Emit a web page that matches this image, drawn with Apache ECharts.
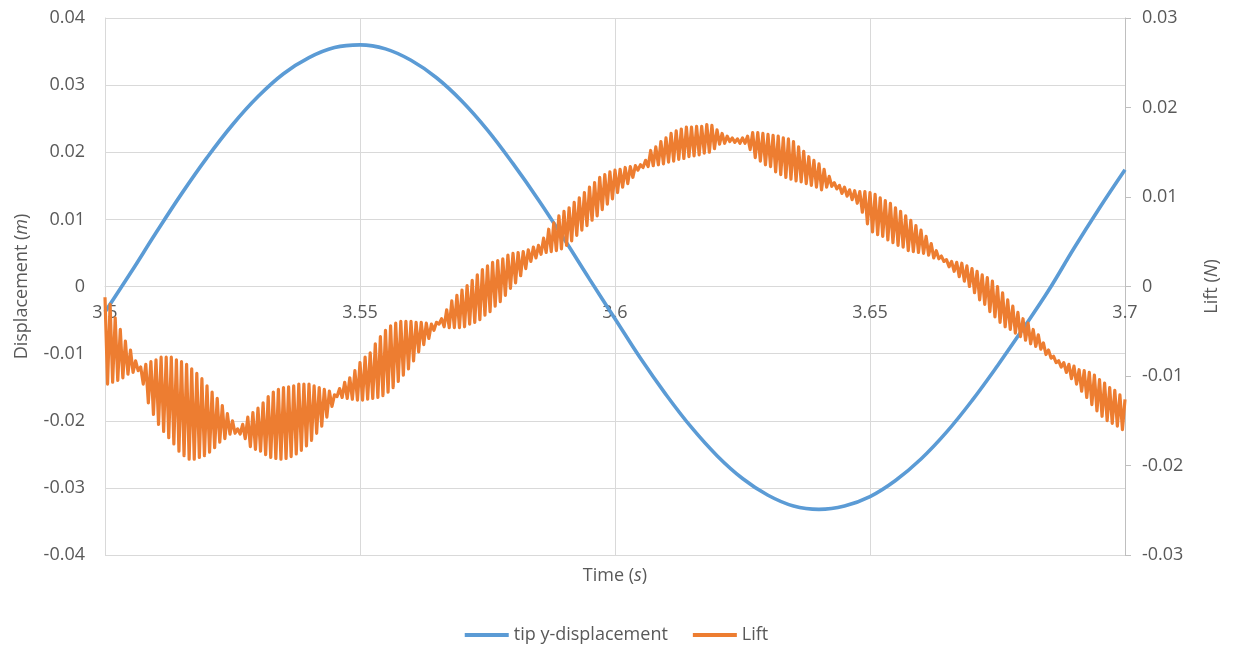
<!DOCTYPE html>
<html>
<head>
<meta charset="utf-8">
<script src="https://cdn.jsdelivr.net/npm/echarts@6/dist/echarts.min.js"></script>
<style>
  html, body { margin: 0; padding: 0; background: #ffffff; }
  #chart { width: 1233px; height: 649px; }
</style>
</head>
<body>
<div id="chart"></div>
<script>
// ---------- DATA ----------
// Blue series: tip y-displacement (m), sampled every 0.005 s
const dispTime = [3.500,3.505,3.510,3.515,3.520,3.525,3.530,3.535,3.540,3.545,
  3.550,3.555,3.560,3.565,3.570,3.575,3.580,3.585,3.590,3.595,
  3.600,3.605,3.610,3.615,3.620,3.625,3.630,3.635,3.640,3.645,
  3.650,3.655,3.660,3.665,3.670,3.675,3.680,3.685,3.690,3.695,3.700];
const dispValues = [-0.0038,0.0020,0.0080,0.0138,0.0192,0.0241,0.0283,0.0317,0.0341,0.0356,
  0.0360,0.0354,0.0337,0.0311,0.0276,0.0233,0.0183,0.0129,0.0071,0.0011,
  -0.0048,-0.0107,-0.0161,-0.0210,-0.0252,-0.0286,-0.0311,-0.0327,-0.0332,-0.0327,
  -0.0313,-0.0289,-0.0257,-0.0217,-0.0170,-0.0118,-0.0063,-0.0006,0.0057,0.0117,0.0174];

// Orange series: Lift (N) — alternating oscillation peaks and troughs
const liftT0 = 3.5;      // first sample time (s)
const liftDT = 0.0005;   // sample spacing (s)
const liftPeaks = [-0.0012,-0.0020,-0.0035,-0.0048,-0.0061,-0.0071,-0.0083,-0.0090,-0.0087,-0.0084,
  -0.0082,-0.0079,-0.0079,-0.0079,-0.0082,-0.0084,-0.0087,-0.0092,-0.0097,-0.0103,
  -0.0111,-0.0118,-0.0125,-0.0133,-0.0142,-0.0150,-0.0159,-0.0154,-0.0146,-0.0141,
  -0.0136,-0.0130,-0.0123,-0.0118,-0.0115,-0.0113,-0.0112,-0.0111,-0.0109,-0.0109,
  -0.0109,-0.0111,-0.0113,-0.0115,-0.0117,-0.0121,-0.0114,-0.0107,-0.0102,-0.0094,
  -0.0085,-0.0079,-0.0074,-0.0064,-0.0056,-0.0049,-0.0044,-0.0041,-0.0039,-0.0039,
  -0.0039,-0.0040,-0.0040,-0.0041,-0.0042,-0.0040,-0.0036,-0.0026,-0.0016,-0.0010,
  -0.0004,0.0001,0.0007,0.0013,0.0019,0.0023,0.0027,0.0029,0.0031,0.0035,
  0.0037,0.0038,0.0039,0.0041,0.0044,0.0046,0.0054,0.0064,0.0071,0.0079,
  0.0084,0.0088,0.0094,0.0099,0.0105,0.0111,0.0116,0.0122,0.0125,0.0128,
  0.0130,0.0131,0.0133,0.0134,0.0135,0.0136,0.0141,0.0152,0.0156,0.0162,
  0.0166,0.0171,0.0174,0.0176,0.0178,0.0178,0.0179,0.0179,0.0181,0.0180,
  0.0175,0.0171,0.0168,0.0166,0.0165,0.0166,0.0168,0.0172,0.0172,0.0171,
  0.0170,0.0169,0.0168,0.0166,0.0165,0.0162,0.0156,0.0151,0.0145,0.0141,
  0.0137,0.0131,0.0123,0.0116,0.0113,0.0111,0.0108,0.0107,0.0106,0.0106,
  0.0105,0.0103,0.0099,0.0096,0.0093,0.0088,0.0084,0.0079,0.0074,0.0068,
  0.0063,0.0056,0.0048,0.0040,0.0034,0.0030,0.0028,0.0027,0.0026,0.0023,
  0.0020,0.0017,0.0013,0.0010,0.0006,0.0000,-0.0007,-0.0015,-0.0022,-0.0029,
  -0.0036,-0.0041,-0.0048,-0.0054,-0.0063,-0.0071,-0.0078,-0.0083,-0.0085,-0.0087,
  -0.0089,-0.0093,-0.0094,-0.0096,-0.0099,-0.0104,-0.0108,-0.0113,-0.0116,-0.0121,
  -0.0126];
const liftTroughs = [-0.0109,-0.0107,-0.0105,-0.0102,-0.0098,-0.0096,-0.0094,-0.0109,-0.0130,-0.0143,
  -0.0154,-0.0162,-0.0169,-0.0176,-0.0184,-0.0189,-0.0193,-0.0193,-0.0191,-0.0189,
  -0.0185,-0.0180,-0.0174,-0.0170,-0.0165,-0.0164,-0.0165,-0.0170,-0.0179,-0.0182,
  -0.0184,-0.0188,-0.0191,-0.0192,-0.0193,-0.0192,-0.0190,-0.0187,-0.0183,-0.0178,
  -0.0172,-0.0164,-0.0156,-0.0146,-0.0134,-0.0123,-0.0124,-0.0125,-0.0126,-0.0127,
  -0.0127,-0.0126,-0.0125,-0.0124,-0.0122,-0.0118,-0.0113,-0.0106,-0.0099,-0.0092,
  -0.0083,-0.0073,-0.0065,-0.0058,-0.0049,-0.0042,-0.0045,-0.0046,-0.0046,-0.0046,
  -0.0045,-0.0042,-0.0040,-0.0037,-0.0032,-0.0028,-0.0022,-0.0017,-0.0010,-0.0002,
  0.0004,0.0012,0.0020,0.0028,0.0032,0.0036,0.0038,0.0039,0.0040,0.0042,
  0.0046,0.0051,0.0057,0.0063,0.0068,0.0074,0.0079,0.0086,0.0092,0.0098,
  0.0105,0.0111,0.0115,0.0122,0.0130,0.0133,0.0134,0.0135,0.0136,0.0137,
  0.0139,0.0140,0.0142,0.0143,0.0145,0.0146,0.0147,0.0149,0.0150,0.0154,
  0.0159,0.0160,0.0162,0.0161,0.0160,0.0160,0.0153,0.0144,0.0140,0.0136,
  0.0134,0.0128,0.0125,0.0122,0.0120,0.0118,0.0117,0.0115,0.0113,0.0111,
  0.0108,0.0111,0.0112,0.0109,0.0104,0.0101,0.0097,0.0093,0.0083,0.0070,
  0.0061,0.0058,0.0056,0.0052,0.0049,0.0046,0.0044,0.0040,0.0039,0.0038,
  0.0037,0.0035,0.0032,0.0031,0.0028,0.0022,0.0017,0.0011,0.0006,0.0000,
  -0.0007,-0.0015,-0.0020,-0.0028,-0.0034,-0.0040,-0.0045,-0.0048,-0.0052,-0.0056,
  -0.0060,-0.0064,-0.0067,-0.0070,-0.0076,-0.0080,-0.0085,-0.0090,-0.0096,-0.0103,
  -0.0109,-0.0117,-0.0124,-0.0132,-0.0139,-0.0145,-0.0150,-0.0153,-0.0156,-0.0160];

// Axis ticks
const xTicks = [3.5, 3.55, 3.6, 3.65, 3.7];
const leftTicks = [-0.04, -0.03, -0.02, -0.01, 0, 0.01, 0.02, 0.03, 0.04];
const rightTicks = [-0.03, -0.02, -0.01, 0, 0.01, 0.02, 0.03];

// ---------- BUILD SERIES DATA ----------
const dispData = dispTime.map((t, i) => [t, dispValues[i]]);
const liftData = [];
for (let k = 0; k < liftPeaks.length; k++) {
  liftData.push([+(liftT0 + (2 * k) * liftDT).toFixed(5), liftPeaks[k]]);
  if (k < liftTroughs.length) {
    liftData.push([+(liftT0 + (2 * k + 1) * liftDT).toFixed(5), liftTroughs[k]]);
  }
}

// ---------- CHART ----------
const FONT = "'Open Sans', 'Noto Sans', sans-serif";
const TXT = '#595959';
const GRID = '#d9d9d9';
const fmt = v => String(+(+v).toFixed(4));

// grid geometry (pixels)
const G_TOP = 18, G_BOTTOM = 94, G_H = 649 - G_TOP - G_BOTTOM;
// the horizontal axis crosses the left axis at 0: shift it up from the bottom edge
const leftMin = leftTicks[0], leftMax = leftTicks[leftTicks.length - 1];
const zeroOffset = -G_H * (0 - leftMin) / (leftMax - leftMin);

const chart = echarts.init(document.getElementById('chart'), null, { renderer: 'canvas' });
chart.setOption({
  animation: false,
  backgroundColor: '#ffffff',
  textStyle: { fontFamily: FONT },
  grid: { left: 105, right: 108, top: G_TOP, bottom: G_BOTTOM, containLabel: false },
  legend: {
    data: ['tip y-displacement', 'Lift'],
    left: 'center',
    top: 621,
    icon: 'rect',
    itemWidth: 44,
    itemHeight: 4,
    itemGap: 25,
    textStyle: { color: TXT, fontSize: 18, fontFamily: FONT }
  },
  graphic: [{
    type: 'text',
    x: 615,
    y: 576,
    style: {
      text: '{a|Time (}{b|s}{a|)}',
      align: 'center',
      verticalAlign: 'middle',
      rich: {
        a: { fontSize: 18, fill: TXT, fontFamily: FONT },
        b: { fontSize: 18, fill: TXT, fontFamily: FONT, fontStyle: 'italic' }
      }
    }
  }],
  xAxis: {
    type: 'value',
    position: 'bottom',
    offset: zeroOffset,
    min: xTicks[0],
    max: xTicks[xTicks.length - 1],
    interval: 0.05,
    axisLine: { show: true, onZero: false, lineStyle: { color: GRID, width: 1 } },
    axisTick: { show: false },
    axisLabel: {
      color: TXT, fontSize: 18, fontFamily: FONT, margin: 17,
      showMinLabel: true, showMaxLabel: true,
      formatter: v => String(+(+v).toFixed(2))
    },
    splitLine: { show: true, lineStyle: { color: GRID, width: 1 } }
  },
  yAxis: [{
    type: 'value',
    position: 'left',
    min: leftMin,
    max: leftMax,
    interval: 0.01,
    name: '{a|Displacement (}{b|m}{a|)}',
    nameLocation: 'middle',
    nameRotate: 90,
    nameGap: 74,
    nameTextStyle: {
      rich: {
        a: { fontSize: 18, color: TXT, fontFamily: FONT },
        b: { fontSize: 18, color: TXT, fontFamily: FONT, fontStyle: 'italic' }
      }
    },
    axisLine: { show: true, onZero: false, lineStyle: { color: GRID, width: 1 } },
    axisTick: { show: false },
    axisLabel: { color: TXT, fontSize: 18, fontFamily: FONT, margin: 20, formatter: fmt },
    splitLine: { show: true, lineStyle: { color: GRID, width: 1 } }
  }, {
    type: 'value',
    position: 'right',
    min: rightTicks[0],
    max: rightTicks[rightTicks.length - 1],
    interval: 0.01,
    name: '{a|Lift (}{b|N}{a|)}',
    nameLocation: 'middle',
    nameRotate: 90,
    nameGap: 78,
    nameTextStyle: {
      rich: {
        a: { fontSize: 18, color: TXT, fontFamily: FONT },
        b: { fontSize: 18, color: TXT, fontFamily: FONT, fontStyle: 'italic' }
      }
    },
    axisLine: { show: true, onZero: false, lineStyle: { color: '#bfbfbf', width: 1 } },
    axisTick: { show: true, inside: false, length: 6, lineStyle: { color: '#bfbfbf', width: 1 } },
    axisLabel: { color: TXT, fontSize: 18, fontFamily: FONT, margin: 17, formatter: fmt },
    splitLine: { show: false }
  }],
  series: [{
    name: 'tip y-displacement',
    type: 'line',
    yAxisIndex: 0,
    data: dispData,
    smooth: 0.4,
    showSymbol: false,
    symbol: 'none',
    color: '#5b9bd5',
    lineStyle: { color: '#5b9bd5', width: 3.6 },
    z: 2
  }, {
    name: 'Lift',
    type: 'line',
    yAxisIndex: 1,
    data: liftData,
    smooth: false,
    showSymbol: false,
    symbol: 'none',
    color: '#ed7d31',
    lineStyle: { color: '#ed7d31', width: 3.2, join: 'round' },
    z: 3
  }]
});
</script>
</body>
</html>
